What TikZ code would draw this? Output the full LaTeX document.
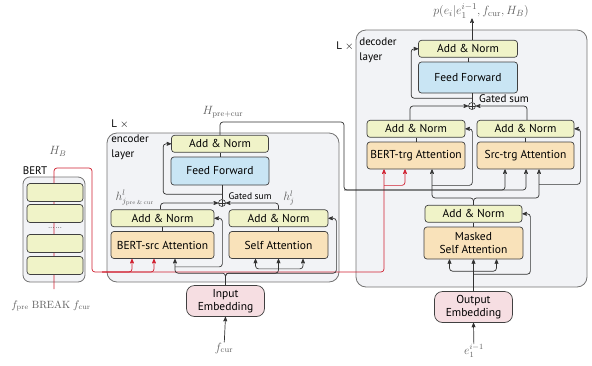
\documentclass[tikz,border=0pt]{standalone}
\usepackage{fontspec}
\setsansfont{PT Sans}
\usepackage{tikz}
\usetikzlibrary{arrows}
\usetikzlibrary{positioning,backgrounds}
\definecolor{addnorm}{RGB}{240,243,200}
\definecolor{attn}{RGB}{249,226,186}
\definecolor{ffwd}{RGB}{201,229,244}
\definecolor{embed}{RGB}{246,222,226}
\definecolor{layerbg}{RGB}{242,243,246}
\definecolor{bertred}{RGB}{208,32,48}
\definecolor{mathgray}{RGB}{95,95,95}

\begin{document}
\begin{tikzpicture}[x=1pt,y=-1pt,>=stealth',line width=0.7pt]
      \tikzstyle{box} = [draw=black!75, rounded corners=3pt, line width=0.7pt, align=center,
         inner sep=1pt, font=\sffamily\fontsize{11.5}{13.5}\selectfont]
      \tikzstyle{an} = [box, fill=addnorm, minimum height=17pt]
      \tikzstyle{att} = [box, fill=attn, minimum height=27pt]
      \tikzstyle{ff} = [box, fill=ffwd, minimum height=28pt]
      \tikzstyle{emb} = [box, fill=embed, rounded corners=8pt, minimum width=78pt, minimum height=31pt]
      \tikzstyle{layer} = [draw=black!55, fill=layerbg, rounded corners=10pt, line width=0.8pt]
      \tikzstyle{gate} = [circle, draw=black!80, inner sep=0pt, minimum size=7pt, line width=0.6pt,
         path picture={\draw[line width=0.6pt] (path picture bounding box.north) -- (path picture bounding box.south)
           (path picture bounding box.west) -- (path picture bounding box.east);}]
      \tikzstyle{line} = [draw=black!80, rounded corners=3pt, ->]
      \tikzstyle{link} = [draw=black!80]
      \tikzstyle{red line} = [line, draw=bertred]
      \tikzstyle{lbl} = [inner sep=0pt, font=\sffamily\fontsize{11}{14.5}\selectfont, align=left]
      \tikzstyle{mlbl} = [inner sep=0pt, text=mathgray, font=\fontsize{11.5}{13}\selectfont]
      \useasboundingbox (0,0) rectangle (592,365);

      %layer boxes
      \begin{scope}[on background layer]
      \node[layer, minimum width=232pt, minimum height=149pt] (enc) at (223,207.5) {};
      \node[layer, minimum width=231pt, minimum height=257pt] (dec) at (471.5,158.5) {};
      \node[layer, minimum width=62pt, minimum height=105pt, rounded corners=7pt] (bert) at (54,229.5) {};
      \end{scope}

      %nodes
      \node[att, minimum width=103pt] (bsatt) at (162.5,245) {BERT-src Attention};
      \node[an, minimum width=103pt] (bsan) [above=4pt of bsatt] {Add \& Norm};
      \node[att, minimum width=99pt] (satt) at (278.5,245) {Self Attention};
      \node[an, minimum width=99pt] (san) [above=4pt of satt] {Add \& Norm};
      \node[gate] (egate) at (222,203) {};
      \node[ff, minimum width=98pt] (eff) at (220,171) {Feed Forward};
      \node[an, minimum width=97pt] (ean) [above=4pt of eff] {Add \& Norm};
      \node[emb] (iemb) at (225.5,301) {Input\\Embedding};

      \node[att, minimum width=98pt] (btatt) at (416,155.5) {BERT-trg Attention};
      \node[an, minimum width=98pt] (btan) [above=4pt of btatt] {Add \& Norm};
      \node[att, minimum width=97pt] (statt) at (525.5,155.5) {Src-trg Attention};
      \node[an, minimum width=97pt] (stan) [above=4pt of statt] {Add \& Norm};
      \node[att, minimum width=99pt, minimum height=32pt] (matt) at (473.5,243) {Masked\\Self Attention};
      \node[an, minimum width=97pt] (man) [above=4pt of matt] {Add \& Norm};
      \node[gate] (dgate) at (472,106) {};
      \node[ff, minimum width=99pt, minimum height=31pt] (dff) at (468,77.5) {Feed Forward};
      \node[an, minimum width=99pt] (dan) [above=4pt of dff] {Add \& Norm};
      \node[emb] (oemb) at (473.5,307) {Output\\Embedding};

      %labels
      \node[lbl] (bertname) at (35,171) {BERT};
      \node[lbl] (encL) at (120,124) {L $\times$};
      \node[lbl, anchor=west] (encname) at (111,147.5) {encoder\\layer};
      \node[lbl] (decL) at (345,46) {L $\times$};
      \node[lbl, anchor=west] (decname) at (359,50.5) {decoder\\layer};
      \node[lbl, font=\sffamily\fontsize{9.5}{11}\selectfont] (egsum) at (250,196) {Gated sum};
      \node[lbl] (dgsum) at (504,99) {Gated sum};
      \node[mlbl] (hb) at (58,151) {$H_B$};
      \node[mlbl, font=\fontsize{10.5}{12}\selectfont] (bertin) at (51,306) {$f_{\mathrm{pre}}\;\mathrm{BREAK}\;f_{\mathrm{cur}}$};
      \node[mlbl] (hpc) at (223,112) {$H_{\mathrm{pre+cur}}$};
      \node[mlbl] (hjpc) at (135,198) {$h^{l}_{j_{\mathrm{pre\,\&\,cur}}}$};
      \node[mlbl] (hj) at (289,198) {$h^{l}_{j}$};
      \node[mlbl] (fcur) at (224,348) {$f_{\mathrm{cur}}$};
      \node[mlbl] (eprev) at (474,351) {$e_1^{i-1}$};
      \node[mlbl, font=\fontsize{12.5}{14}\selectfont] (pout) at (481,11) {$p(e_i|e_1^{i-1},f_{\mathrm{cur}},H_B)$};
      \coordinate (rin) at (54,289);
      \coordinate (rtop) at (54,168);
      \coordinate (rturn) at (92,168);
      \coordinate (rdown) at (92,272);
      \coordinate (ecorner) at (344,122);
      \coordinate (elow) at (344,190);

      %red lines
      \draw[red line] (rin) -- (rtop) -- (rturn) -- (rdown) -| ([xshift=-32pt]btatt.south);
      \draw[red line] ([xshift=10pt]rdown) -| ([xshift=-30.5pt]bsatt.south);
      \draw[red line] ([xshift=10pt]rdown) -| ([xshift=-8.5pt]bsatt.south);
      \draw[red line] ([xshift=-32pt]btatt.south) ++(0,16) -| ([xshift=-11pt]btatt.south);

      %bert layers (over the red line)
      \foreach \y/\n in {192.5/1, 213.5/2, 243.5/3, 265.5/4}
         \node[an, minimum width=56pt, minimum height=18pt] (bl\n) at (55,\y) {};
      \node[inner sep=0pt, font=\tiny] (bdots) at (55,228) {\textbf{...}\,\textbf{...}};

      %encoder lines
      \draw[line] (fcur) -- (iemb.south);
      \draw[line] (iemb.north) -- ++(0,-12) -| ([xshift=12.5pt]bsatt.south);
      \draw[line] (iemb.north) -- ++(0,-12) -| (satt.south);
      \draw[line] (iemb.north) -- ++(0,-12) -| ([xshift=8pt]san.east) -- (san.east);
      \draw[line] ([xshift=12.5pt]bsatt.south) ++(0,8) -| ([xshift=8pt]bsan.east) -- (bsan.east);
      \draw[line] (satt.south) ++(0,10) -| ([xshift=-23pt]satt.south);
      \draw[line] (satt.south) ++(0,10) -| ([xshift=24.5pt]satt.south);
      \draw[link] (bsatt) -- (bsan);
      \draw[link] (satt) -- (san);
      \draw[line] ([xshift=-2pt]bsan.north) |- (egate);
      \draw[line] (san.north) |- (egate);
      \draw[link] (egate.north) -- (egate |- eff.south);
      \draw[line] (egate.north) ++(0,-5) -| ([xshift=-8pt]ean.west) -- (ean.west);
      \draw[link] (eff) -- (ean);
      \draw[line] (ean.north) |- (ecorner) -- (elow) -| ([xshift=0.5pt]statt.south);
      \draw[line] (elow) -| ([xshift=-20.5pt]statt.south);

      %decoder lines
      \draw[line] (eprev) -- (oemb.south);
      \draw[line] (oemb.north) -- (matt.south);
      \draw[line] (oemb.north) ++(0,-20) -| ([xshift=-24pt]matt.south);
      \draw[line] (oemb.north) ++(0,-20) -| ([xshift=23pt]matt.south);
      \draw[line] (oemb.north) ++(0,-17) -| ([xshift=8pt]man.east) -- (man.east);
      \draw[link] (matt) -- (man);
      \draw[line] (man.north) -- ++(0,-7) -| ([xshift=16pt]btatt.south);
      \draw[line] (man.north) -- ++(0,-7) -| ([xshift=13.5pt]statt.south);
      \draw[line] ([xshift=16pt]btatt.south) ++(0,16) -| ([xshift=7pt]btan.east) -- (btan.east);
      \draw[line] ([xshift=13.5pt]statt.south) ++(0,15) -| ([xshift=6pt]stan.east) -- (stan.east);
      \draw[link] (btatt) -- (btan);
      \draw[link] (statt) -- (stan);
      \draw[line] ([xshift=-6pt]btan.north) |- (dgate);
      \draw[line] ([xshift=1.5pt]stan.north) |- (dgate);
      \draw[link] (dgate.north) -- (dgate |- dff.south);
      \draw[line] (dgate.north) ++(0,-4) -| ([xshift=-7pt]dan.west) -- (dan.west);
      \draw[link] (dff) -- (dan);
      \draw[line] (dan.north -| dgate) -- (dgate |- pout.south);
    \end{tikzpicture}
\end{document}
